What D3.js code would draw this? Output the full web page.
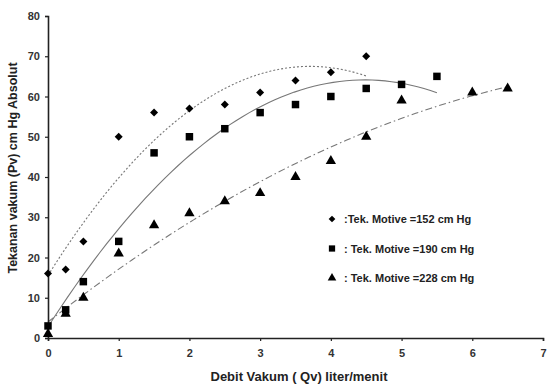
<!DOCTYPE html>
<html>
<head>
<meta charset="utf-8">
<script src="https://cdn.jsdelivr.net/npm/d3@7"></script>
<style>
  body{margin:0;background:#fff;}
  svg{display:block;font-family:"Liberation Sans",Arial,sans-serif;}
</style>
</head>
<body>
<svg id="chart" width="548" height="387"></svg>
<script>
// data
var qv152=[0,0.25,0.5,1,1.5,2,2.5,3,3.5,4,4.5];
var pv152=[16,17,24,50,56,57,58,61,64,66,70];
var qv190=[0,0.25,0.5,1,1.5,2,2.5,3,3.5,4,4.5,5,5.5];
var pv190=[3,7,14,24,46,50,52,56,58,60,62,63,65];
var qv228=[0,0.25,0.5,1,1.5,2,2.5,3,3.5,4,4.5,5,6,6.5];
var pv228=[1,6,10,21,28,31,34,36,40,44,50,59,61,62];
var legendLabels=[':Tek. Motive =152 cm Hg',': Tek. Motive =190 cm Hg',': Tek. Motive =228 cm Hg'];
var xTicks=[0,1,2,3,4,5,6,7];
var yTicks=[0,10,20,30,40,50,60,70,80];

var svg=d3.select('#chart');
var ml=48, mr=5, mt=16, mb=49;
var W=548, H=387;
var x=d3.scaleLinear().domain([0,7]).range([ml,W-mr]);
var y=d3.scaleLinear().domain([0,80]).range([H-mb,mt]);

// quadratic least squares trendline (like the spreadsheet's poly trendline)
function polyFit(xs,ys){
  var n=xs.length,s=[0,0,0,0,0],t=[0,0,0];
  for(var i=0;i<n;i++){
    var p=1;
    for(var k=0;k<5;k++){s[k]+=p; if(k<3)t[k]+=p*ys[i]; p*=xs[i];}
  }
  var A=[[s[0],s[1],s[2],t[0]],[s[1],s[2],s[3],t[1]],[s[2],s[3],s[4],t[2]]];
  for(var c=0;c<3;c++){
    for(var r=c+1;r<3;r++){
      var f=A[r][c]/A[c][c];
      for(var j=c;j<4;j++)A[r][j]-=f*A[c][j];
    }
  }
  var b=[0,0,0];
  for(var r2=2;r2>=0;r2--){
    var v=A[r2][3];
    for(var j2=r2+1;j2<3;j2++)v-=A[r2][j2]*b[j2];
    b[r2]=v/A[r2][r2];
  }
  return function(q){return b[0]+b[1]*q+b[2]*q*q;};
}

// diamond = square turned 45deg (d3's own diamond is too tall)
var series=[
  {qv:qv152,pv:pv152,sym:d3.symbolSquare,rot:45,size:32,dash:'2,2',label:legendLabels[0]},
  {qv:qv190,pv:pv190,sym:d3.symbolSquare,rot:0,size:56,dash:null,label:legendLabels[1]},
  {qv:qv228,pv:pv228,sym:d3.symbolTriangle,rot:0,size:46,dash:'7,3,1.5,3',label:legendLabels[2]}
];

// trendlines
series.forEach(function(s){
  var fn=polyFit(s.qv,s.pv);
  var x0=d3.min(s.qv),x1=d3.max(s.qv);
  var pts=d3.range(0,61).map(function(i){var q=x0+(x1-x0)*i/60;return [q,fn(q)];});
  svg.append('path').datum(pts)
    .attr('d',d3.line().x(function(d){return x(d[0]);}).y(function(d){return y(d[1]);}))
    .attr('fill','none').attr('stroke','#777').attr('stroke-width',1.1)
    .attr('stroke-dasharray',s.dash);
});

// axes
var fontTick='bold 11px "Liberation Sans",Arial,sans-serif';
var gx=svg.append('g').attr('transform','translate(0,'+y(0)+')')
  .call(d3.axisBottom(x).tickValues(xTicks).tickSize(3).tickPadding(8).tickFormat(d3.format('d')));
var gy=svg.append('g').attr('transform','translate('+x(0)+',0)')
  .call(d3.axisLeft(y).tickValues(yTicks).tickSize(3).tickPadding(5).tickFormat(d3.format('d')));
[gx,gy].forEach(function(g){
  g.select('.domain').attr('stroke','#222').attr('stroke-width',1.6);
  g.selectAll('.tick line').attr('stroke','#222').attr('stroke-width',1.2);
  g.selectAll('.tick text').attr('fill','#333').style('font',fontTick);
});

// markers
series.forEach(function(s){
  svg.append('g').selectAll('path').data(s.qv).join('path')
    .attr('transform',function(d,i){return 'translate('+x(d)+','+y(s.pv[i])+') rotate('+s.rot+')';})
    .attr('d',d3.symbol().type(s.sym).size(s.size))
    .attr('fill','#000');
});

// legend
var lg=svg.append('g').attr('transform','translate(332,219)');
series.forEach(function(s,i){
  var row=lg.append('g').attr('transform','translate(0,'+(i*29.5)+')');
  row.append('path').attr('transform','rotate('+s.rot+')')
    .attr('d',d3.symbol().type(s.sym).size(s.size*0.7)).attr('fill','#000');
  row.append('text').attr('x',12).attr('y',4).attr('fill','#222')
    .style('font','bold 11px "Liberation Sans",Arial,sans-serif').text(s.label);
});

// axis titles
svg.append('text').attr('x',299).attr('y',381).attr('text-anchor','middle').attr('fill','#222')
  .style('font','bold 13px "Liberation Sans",Arial,sans-serif').text('Debit Vakum ( Qv) liter/menit');
svg.append('text').attr('transform','translate(17,168) rotate(-90)').attr('text-anchor','middle').attr('fill','#222')
  .style('font','bold 12.5px "Liberation Sans",Arial,sans-serif').text('Tekanan vakum (Pv) cm Hg Absolut');
</script>
</body>
</html>
